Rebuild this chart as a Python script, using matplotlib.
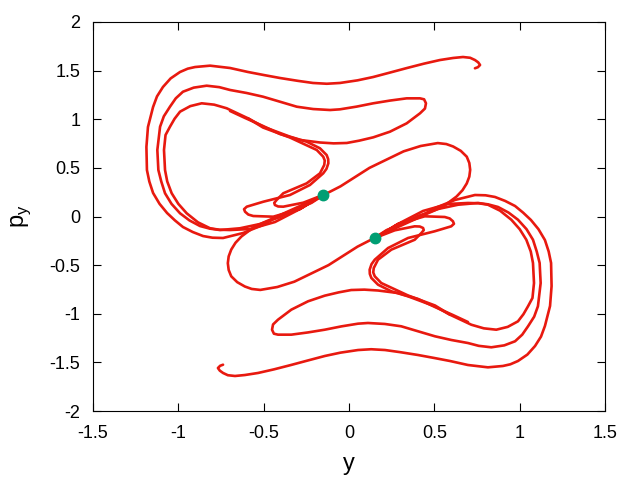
import matplotlib as mpl
import matplotlib.pyplot as plt

mpl.rcParams['font.family'] = ['Liberation Sans', 'DejaVu Sans']
mpl.rcParams['axes.unicode_minus'] = False

# fixed points (y, p_y)
fixed_y = [-0.15, 0.15]
fixed_p = [0.22, -0.22]

# strands of the manifold, (y, p_y)
outer_a = [(-0.152, 0.221), (-0.287, 0.108), (-0.404, 0.015), (-0.504, -0.087),
           (-0.621, -0.170), (-0.738, -0.221), (-0.80, -0.218), (-0.855, -0.201),
           (-0.915, -0.16), (-0.973, -0.108), (-1.02, -0.04), (-1.066, 0.036),
           (-1.11, 0.13), (-1.148, 0.242), (-1.17, 0.36), (-1.184, 0.478),
           (-1.187, 0.715), (-1.178, 0.920), (-1.148, 1.126), (-1.125, 1.235),
           (-1.090, 1.332), (-1.045, 1.42), (-0.990, 1.486), (-0.945, 1.52),
           (-0.902, 1.537), (-0.814, 1.551), (-0.697, 1.527), (-0.592, 1.486),
           (-0.50, 1.455), (-0.404, 1.424), (-0.30, 1.395), (-0.211, 1.373),
           (-0.13, 1.365), (-0.053, 1.373), (0.05, 1.40), (0.141, 1.434),
           (0.240, 1.480), (0.340, 1.527), (0.44, 1.572), (0.533, 1.609),
           (0.61, 1.63), (0.668, 1.640), (0.71, 1.632), (0.738, 1.609),
           (0.757, 1.585), (0.768, 1.558), (0.755, 1.535), (0.738, 1.524)]
outer_b = [(0.152, -0.221), (0.287, -0.108), (0.404, -0.015), (0.504, 0.087),
           (0.621, 0.170), (0.738, 0.221), (0.80, 0.218), (0.855, 0.201),
           (0.915, 0.16), (0.973, 0.108), (1.02, 0.04), (1.066, -0.036),
           (1.11, -0.13), (1.148, -0.242), (1.17, -0.36), (1.184, -0.478),
           (1.187, -0.715), (1.178, -0.920), (1.148, -1.126), (1.125, -1.235),
           (1.090, -1.332), (1.045, -1.42), (0.990, -1.486), (0.945, -1.52),
           (0.902, -1.537), (0.814, -1.551), (0.697, -1.527), (0.592, -1.486),
           (0.50, -1.455), (0.404, -1.424), (0.30, -1.395), (0.211, -1.373),
           (0.13, -1.365), (0.053, -1.373), (-0.05, -1.40), (-0.141, -1.434),
           (-0.240, -1.480), (-0.340, -1.527), (-0.44, -1.572), (-0.533, -1.609),
           (-0.61, -1.63), (-0.668, -1.640), (-0.71, -1.632), (-0.738, -1.609),
           (-0.757, -1.585), (-0.768, -1.558), (-0.755, -1.535), (-0.738, -1.524)]

middle_a = [(-0.152, 0.221), (-0.287, 0.098), (-0.404, -0.005), (-0.521, -0.077),
            (-0.639, -0.121), (-0.756, -0.139), (-0.815, -0.125), (-0.873, -0.098),
            (-0.935, -0.04), (-0.990, 0.033), (-1.04, 0.13), (-1.078, 0.239),
            (-1.10, 0.36), (-1.117, 0.478), (-1.123, 0.684), (-1.107, 0.923),
            (-1.085, 1.03), (-1.049, 1.129), (-1.015, 1.215), (-0.973, 1.283),
            (-0.91, 1.325), (-0.834, 1.345), (-0.76, 1.33), (-0.697, 1.301),
            (-0.60, 1.27), (-0.504, 1.232), (-0.40, 1.178), (-0.306, 1.129),
            (-0.21, 1.105), (-0.111, 1.095), (-0.053, 1.102), (0.045, 1.13),
            (0.142, 1.164), (0.24, 1.192), (0.338, 1.215), (0.416, 1.215),
            (0.44, 1.205), (0.451, 1.164), (0.445, 1.11), (0.416, 1.061),
            (0.338, 0.958), (0.240, 0.872), (0.142, 0.814), (0.06, 0.78),
            (-0.013, 0.756), (-0.09, 0.752), (-0.170, 0.761), (-0.287, 0.787),
            (-0.404, 0.848), (-0.504, 0.931), (-0.609, 1.013), (-0.697, 1.085)]
middle_b = [(0.152, -0.221), (0.287, -0.098), (0.404, 0.005), (0.521, 0.077),
            (0.639, 0.121), (0.756, 0.139), (0.815, 0.125), (0.873, 0.098),
            (0.935, 0.04), (0.990, -0.033), (1.04, -0.13), (1.078, -0.239),
            (1.10, -0.36), (1.117, -0.478), (1.123, -0.684), (1.107, -0.923),
            (1.085, -1.03), (1.049, -1.129), (1.015, -1.215), (0.973, -1.283),
            (0.91, -1.325), (0.834, -1.345), (0.76, -1.33), (0.697, -1.301),
            (0.60, -1.27), (0.504, -1.232), (0.40, -1.178), (0.306, -1.129),
            (0.21, -1.105), (0.111, -1.095), (0.053, -1.102), (-0.045, -1.13),
            (-0.142, -1.164), (-0.24, -1.192), (-0.338, -1.215), (-0.416, -1.215),
            (-0.44, -1.205), (-0.451, -1.164), (-0.445, -1.11), (-0.416, -1.061),
            (-0.338, -0.958), (-0.240, -0.872), (-0.142, -0.814), (-0.06, -0.78),
            (0.013, -0.756), (0.09, -0.752), (0.170, -0.761), (0.287, -0.787),
            (0.404, -0.848), (0.504, -0.931), (0.609, -1.013), (0.697, -1.085)]

inner_a = [(-0.152, 0.221), (-0.287, 0.077), (-0.434, -0.057), (-0.580, -0.129),
           (-0.697, -0.139), (-0.76, -0.136), (-0.814, -0.121), (-0.885, -0.06),
           (-0.951, 0.033), (-1.0, 0.13), (-1.039, 0.239), (-1.065, 0.36),
           (-1.078, 0.478), (-1.084, 0.684), (-1.075, 0.838), (-1.049, 0.923),
           (-1.022, 1.005), (-0.990, 1.078), (-0.93, 1.135), (-0.863, 1.164),
           (-0.79, 1.15), (-0.717, 1.113), (-0.592, 1.010), (-0.502, 0.923),
           (-0.346, 0.821), (-0.248, 0.769), (-0.170, 0.701), (-0.131, 0.632),
           (-0.122, 0.59), (-0.121, 0.547), (-0.132, 0.49), (-0.151, 0.444),
           (-0.229, 0.324), (-0.346, 0.221), (-0.502, 0.152), (-0.599, 0.101),
           (-0.615, 0.075), (-0.609, 0.049), (-0.59, 0.02), (-0.561, 0.005),
           (-0.444, -0.002), (-0.287, 0.077), (-0.152, 0.221)]
inner_b = [(0.152, -0.221), (0.287, -0.077), (0.434, 0.057), (0.580, 0.129),
           (0.697, 0.139), (0.76, 0.136), (0.814, 0.121), (0.885, 0.06),
           (0.951, -0.033), (1.0, -0.13), (1.039, -0.239), (1.065, -0.36),
           (1.078, -0.478), (1.084, -0.684), (1.075, -0.838), (1.049, -0.923),
           (1.022, -1.005), (0.990, -1.078), (0.93, -1.135), (0.863, -1.164),
           (0.79, -1.15), (0.717, -1.113), (0.592, -1.010), (0.502, -0.923),
           (0.346, -0.821), (0.248, -0.769), (0.170, -0.701), (0.131, -0.632),
           (0.122, -0.59), (0.121, -0.547), (0.132, -0.49), (0.151, -0.444),
           (0.229, -0.324), (0.346, -0.221), (0.502, -0.152), (0.599, -0.101),
           (0.615, -0.075), (0.609, -0.049), (0.59, -0.02), (0.561, -0.005),
           (0.444, 0.002), (0.287, -0.077), (0.152, -0.221)]

fold_a = [(-0.592, 1.010), (-0.504, 0.915), (-0.346, 0.812), (-0.189, 0.684),
          (-0.151, 0.615), (-0.142, 0.575), (-0.145, 0.530), (-0.170, 0.444),
          (-0.248, 0.341), (-0.385, 0.239), (-0.424, 0.170), (-0.438, 0.14),
          (-0.434, 0.118), (-0.415, 0.103), (-0.385, 0.101), (-0.268, 0.142),
          (-0.152, 0.221)]
fold_b = [(0.592, -1.010), (0.504, -0.915), (0.346, -0.812), (0.189, -0.684),
          (0.151, -0.615), (0.142, -0.575), (0.145, -0.530), (0.170, -0.444),
          (0.248, -0.341), (0.385, -0.239), (0.424, -0.170), (0.438, -0.14),
          (0.434, -0.118), (0.415, -0.103), (0.385, -0.101), (0.268, -0.142),
          (0.152, -0.221)]

central = [(-0.15, 0.22), (-0.05, 0.31), (0.12, 0.50), (0.32, 0.67), (0.42, 0.725),
           (0.52, 0.755), (0.57, 0.745), (0.61, 0.72), (0.655, 0.675), (0.69, 0.615),
           (0.705, 0.55), (0.71, 0.48), (0.705, 0.41), (0.69, 0.34), (0.665, 0.27),
           (0.63, 0.205), (0.55, 0.10), (0.42, 0.0), (0.22, -0.14), (0.15, -0.22),
           (0.05, -0.31), (-0.12, -0.50), (-0.32, -0.67), (-0.42, -0.725),
           (-0.52, -0.755), (-0.57, -0.745), (-0.61, -0.72), (-0.655, -0.675),
           (-0.69, -0.615), (-0.705, -0.55), (-0.71, -0.48), (-0.705, -0.41),
           (-0.69, -0.34), (-0.665, -0.27), (-0.63, -0.205), (-0.55, -0.10),
           (-0.42, 0.0), (-0.22, 0.14), (-0.15, 0.22)]

strands = [outer_a, outer_b, middle_a, middle_b, inner_a, inner_b,
           fold_a, fold_b, central]

fig = plt.figure(figsize=(6.4, 4.8), dpi=100)
ax = fig.add_axes([93/640, 69/480, 512/640, 389/480])

for s in strands:
    ys = [q[0] for q in s]
    ps = [q[1] for q in s]
    ax.plot(ys, ps, color='#e8190f', lw=1.9, solid_joinstyle='round',
            solid_capstyle='round')
ax.plot(fixed_y, fixed_p, 'o', color='#009e73', ms=7.5, mec='#009e73')

ax.set_xlim(-1.5, 1.5)
ax.set_ylim(-2, 2)
ax.set_xticks([-1.5, -1, -0.5, 0, 0.5, 1, 1.5])
ax.set_xticklabels(['-1.5', '-1', '-0.5', '0', '0.5', '1', '1.5'])
ax.set_yticks([-2, -1.5, -1, -0.5, 0, 0.5, 1, 1.5, 2])
ax.set_yticklabels(['-2', '-1.5', '-1', '-0.5', '0', '0.5', '1', '1.5', '2'])
ax.tick_params(direction='in', length=6, width=0.8, top=True, right=True,
               labelsize=13)
ax.tick_params(axis='x', pad=10)
ax.tick_params(axis='y', pad=9)
for sp in ax.spines.values():
    sp.set_linewidth(0.8)
ax.set_xlabel('y', fontsize=17, labelpad=8)
ax.set_ylabel('p$_\\mathregular{y}$', fontsize=17, labelpad=12)

plt.savefig('out.png', dpi=100)
